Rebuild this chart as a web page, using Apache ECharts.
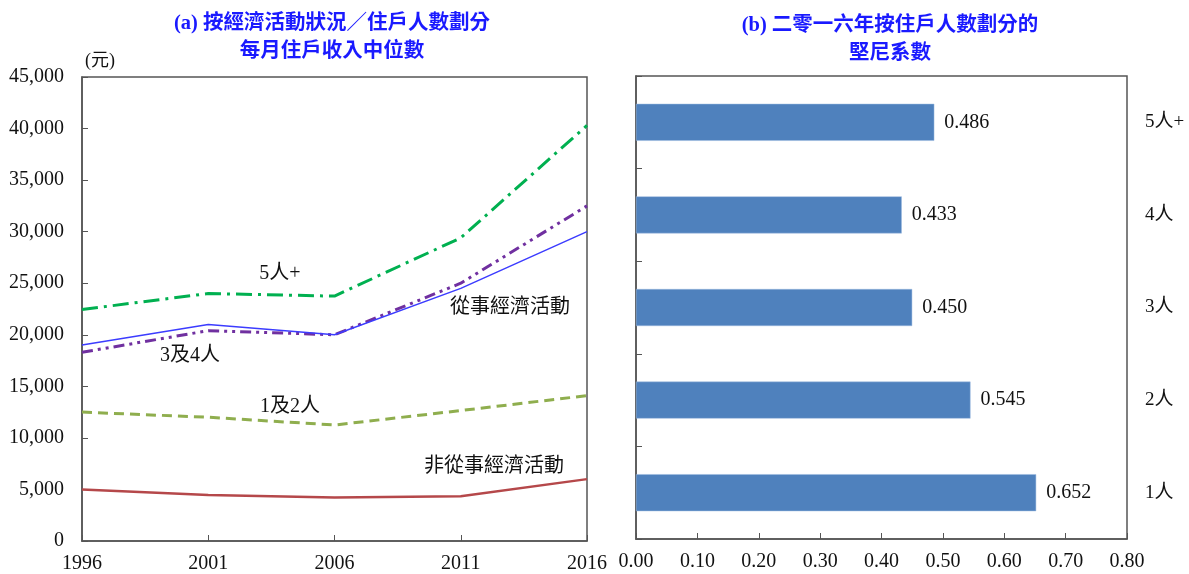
<!DOCTYPE html>
<html>
<head>
<meta charset="utf-8">
<script src="https://cdn.jsdelivr.net/npm/echarts@6/dist/echarts.min.js"></script>
<style>
html,body{margin:0;padding:0;background:#fff;}
#chart{width:1189px;height:574px;}
</style>
</head>
<body>
<div id="chart"></div>
<script>
// ---- Data ----
var years = ['1996', '2001', '2006', '2011', '2016'];
var econActive = [19000, 21000, 20000, 24500, 30000];      // 從事經濟活動
var econInactive = [5000, 4450, 4230, 4350, 6000];         // 非從事經濟活動
var hh1and2 = [12500, 12000, 11250, 12650, 14100];         // 1及2人
var hh3and4 = [18300, 20400, 20000, 25000, 32500];         // 3及4人
var hh5plus = [22450, 24000, 23750, 29400, 40300];         // 5人+
var giniCats = ['1人', '2人', '3人', '4人', '5人+'];
var giniValues = [0.652, 0.545, 0.450, 0.433, 0.486];
var yTicksMax = 45000, yTickStep = 5000;
var giniMax = 0.8, giniStep = 0.1;

var serif = "'Liberation Serif', 'Times New Roman', 'Noto Sans CJK TC', serif";
var cjk = "'Liberation Serif', 'Noto Sans CJK TC', serif";
var axisColor = '#555';
var txt = '#111';

var chart = echarts.init(document.getElementById('chart'));
var option = {
  animation: false,
  backgroundColor: '#fff',
  title: [
    {text: '(a) 按經濟活動狀況／住戶人數劃分\n每月住戶收入中位數', left: 327, top: 5, textAlign: 'center',
     textStyle: {color: '#1a1aff', fontSize: 20.5, fontWeight: 'bold', fontFamily: cjk, lineHeight: 28}},
    {text: '(b) 二零一六年按住戶人數劃分的\n堅尼系數', left: 885, top: 7, textAlign: 'center',
     textStyle: {color: '#1a1aff', fontSize: 20.5, fontWeight: 'bold', fontFamily: cjk, lineHeight: 28}}
  ],
  grid: [
    {left: 82, right: 602, top: 77, bottom: 33, show: true, borderColor: axisColor, borderWidth: 1.5, backgroundColor: 'transparent'},
    {left: 636, right: 62, top: 76, bottom: 35, show: true, borderColor: axisColor, borderWidth: 1.5, backgroundColor: 'transparent'}
  ],
  xAxis: [
    {type: 'category', gridIndex: 0, data: years, boundaryGap: false,
     axisLine: {lineStyle: {color: axisColor, width: 1.5}},
     axisTick: {inside: true, length: 6, lineStyle: {color: axisColor}},
     axisLabel: {color: txt, fontSize: 20, fontFamily: serif, margin: 13},
     splitLine: {show: false}},
    {type: 'value', gridIndex: 1, min: 0, max: giniMax, interval: giniStep,
     axisLine: {show: true, lineStyle: {color: axisColor, width: 1.5}},
     axisTick: {show: true, inside: true, length: 6, lineStyle: {color: axisColor}},
     axisLabel: {color: txt, fontSize: 20, fontFamily: serif, margin: 13, formatter: function (v) { return v.toFixed(2); }},
     splitLine: {show: false}}
  ],
  yAxis: [
    {type: 'value', gridIndex: 0, min: 0, max: yTicksMax, interval: yTickStep,
     axisLine: {show: true, lineStyle: {color: axisColor, width: 1.5}},
     axisTick: {show: true, inside: true, length: 6, lineStyle: {color: axisColor}},
     axisLabel: {color: txt, fontSize: 20, fontFamily: serif, margin: 18,
       formatter: function (v) { return v.toLocaleString('en-US'); }},
     splitLine: {show: false}},
    {type: 'category', gridIndex: 1, data: giniCats, position: 'left',
     axisLine: {show: true, lineStyle: {color: axisColor, width: 1.5}},
     axisTick: {show: true, inside: true, length: 6, lineStyle: {color: axisColor}},
     axisLabel: {show: false}, splitLine: {show: false}},
    {type: 'category', gridIndex: 1, data: giniCats, position: 'right',
     axisLine: {show: false}, axisTick: {show: false},
     axisLabel: {color: txt, fontSize: 19, fontFamily: cjk, margin: 18, align: 'left'},
     splitLine: {show: false}}
  ],
  series: [
    {name: '5人+', type: 'line', xAxisIndex: 0, yAxisIndex: 0, data: hh5plus, symbol: 'none',
     lineStyle: {color: '#00b050', width: 3, type: [16, 6, 3, 6]}},
    {name: '3及4人', type: 'line', xAxisIndex: 0, yAxisIndex: 0, data: hh3and4, symbol: 'none',
     lineStyle: {color: '#7030a0', width: 3, type: [11, 5, 3, 5, 3, 5]}},
    {name: '從事經濟活動', type: 'line', xAxisIndex: 0, yAxisIndex: 0, data: econActive, symbol: 'none',
     lineStyle: {color: '#3c3cff', width: 1.5}},
    {name: '1及2人', type: 'line', xAxisIndex: 0, yAxisIndex: 0, data: hh1and2, symbol: 'none',
     lineStyle: {color: '#8fae4e', width: 3, type: [10, 6]}},
    {name: '非從事經濟活動', type: 'line', xAxisIndex: 0, yAxisIndex: 0, data: econInactive, symbol: 'none',
     lineStyle: {color: '#b5484a', width: 2.5}},
    {name: '堅尼系數', type: 'bar', xAxisIndex: 1, yAxisIndex: 1, data: giniValues, barWidth: 37,
     itemStyle: {color: '#4f81bd', borderColor: '#9dbbe0', borderWidth: 0.5},
     label: {show: true, position: 'right', distance: 10, color: txt, fontSize: 20, fontFamily: serif,
       formatter: function (p) { return p.value.toFixed(3); }}}
  ],
  graphic: [
    {type: 'text', left: 85, top: 52, style: {text: '(元)', fontSize: 18, fontFamily: cjk, fill: txt}},
    {type: 'text', x: 280, y: 274, style: {text: '5人+', fontSize: 20, fontFamily: cjk, fill: txt, align: 'center', verticalAlign: 'middle'}},
    {type: 'text', x: 510, y: 308, style: {text: '從事經濟活動', fontSize: 20, fontFamily: cjk, fill: txt, align: 'center', verticalAlign: 'middle'}},
    {type: 'text', x: 190, y: 356, style: {text: '3及4人', fontSize: 20, fontFamily: cjk, fill: txt, align: 'center', verticalAlign: 'middle'}},
    {type: 'text', x: 290, y: 407, style: {text: '1及2人', fontSize: 20, fontFamily: cjk, fill: txt, align: 'center', verticalAlign: 'middle'}},
    {type: 'text', x: 494, y: 467, style: {text: '非從事經濟活動', fontSize: 20, fontFamily: cjk, fill: txt, align: 'center', verticalAlign: 'middle'}}
  ]
};
chart.setOption(option);
</script>
</body>
</html>
